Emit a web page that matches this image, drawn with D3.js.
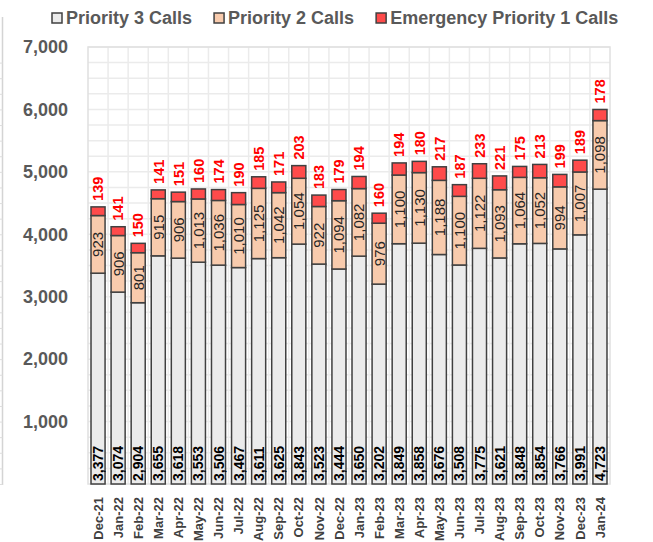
<!DOCTYPE html>
<html>
<head>
<meta charset="utf-8">
<script src="https://cdn.jsdelivr.net/npm/d3@7"></script>
<style>
  body { margin: 0; background: #fff; }
  svg { display: block; font-family: "Liberation Sans", Arial, sans-serif; }
</style>
</head>
<body>
<div id="chart"></div>
<script>
const months = ["Dec-21","Jan-22","Feb-22","Mar-22","Apr-22","May-22","Jun-22","Jul-22","Aug-22","Sep-22","Oct-22","Nov-22","Dec-22",
  "Jan-23","Feb-23","Mar-23","Apr-23","May-23","Jun-23","Jul-23","Aug-23","Sep-23","Oct-23","Nov-23","Dec-23","Jan-24"];
const priority3 = [3377,3074,2904,3655,3618,3553,3506,3467,3611,3625,3843,3523,3444,3650,3202,3849,3858,3676,3508,3775,3621,3848,3854,3766,3991,4723];
const priority2 = [923,906,801,915,906,1013,1036,1010,1125,1042,1054,922,1094,1082,976,1100,1130,1188,1100,1122,1093,1064,1052,994,1007,1098];
const priority1 = [139,141,150,141,151,160,174,190,185,171,203,183,179,194,160,194,180,217,187,233,221,175,213,199,189,178];
const yTicks = [1000,2000,3000,4000,5000,6000,7000];

const width = 653, height = 542;
const margin = { top: 47, right: 43, bottom: 58, left: 88 };

const seriesKeys = ["p3", "p2", "p1"];
const seriesNames = ["Priority 3 Calls", "Priority 2 Calls", "Emergency Priority 1 Calls"];
const colors = { p3: "#ebebeb", p2: "#f8cbad", p1: "#ff4b4b" };

const table = months.map((m, i) => ({ month: m, p3: priority3[i], p2: priority2[i], p1: priority1[i] }));
const stacked = d3.stack().keys(seriesKeys)(table);

const svg = d3.select("#chart").append("svg")
  .attr("width", width).attr("height", height);

const x = d3.scaleBand().domain(months)
  .range([margin.left, width - margin.right]).paddingInner(0.3).paddingOuter(0.15);
const y = d3.scaleLinear().domain([0, 7000]).range([height - margin.bottom, margin.top]);

// bit of a neighbouring frame at the left edge
svg.append("line").attr("x1", 2.5).attr("x2", 2.5).attr("y1", 17).attr("y2", 485)
  .attr("stroke", "#d4d4d4").attr("stroke-width", 1.5);
svg.selectAll(".edge").data(d3.range(0, 7000, 250)).enter().append("line")
  .attr("x1", 0).attr("x2", 2.5)
  .attr("y1", d => y(d) + 0.5).attr("y2", d => y(d) + 0.5)
  .attr("stroke", "#dedede");

// grid
const grid = svg.append("g");
grid.selectAll(".hg").data(d3.range(250, 7001, 250)).enter().append("line")
  .attr("x1", margin.left).attr("x2", width - margin.right)
  .attr("y1", d => y(d)).attr("y2", d => y(d))
  .attr("stroke", "#ebebeb").attr("stroke-width", 1.5);
const step = x.step();
grid.selectAll(".vg").data(months.slice(1)).enter().append("line")
  .attr("x1", d => x(d) - step * 0.15).attr("x2", d => x(d) - step * 0.15)
  .attr("y1", margin.top).attr("y2", y(0))
  .attr("stroke", "#ebebeb").attr("stroke-width", 1.5);
grid.append("rect")
  .attr("x", margin.left).attr("y", margin.top)
  .attr("width", width - margin.right - margin.left).attr("height", y(0) - margin.top)
  .attr("fill", "none").attr("stroke", "#e0e0e0").attr("stroke-width", 1.5);

// y axis labels
svg.append("g").selectAll("text").data(yTicks).enter().append("text")
  .attr("x", 68).attr("y", d => y(d)).attr("dy", "0.35em")
  .attr("text-anchor", "end")
  .style("font-size", "18px").style("font-weight", "bold").attr("fill", "#595959")
  .text(d3.format(","));

// bars
svg.append("g").selectAll("g").data(stacked).enter().append("g")
  .attr("fill", d => colors[d.key])
  .selectAll("rect").data(d => d).enter().append("rect")
  .attr("x", d => x(d.data.month))
  .attr("width", x.bandwidth())
  .attr("y", d => y(d[1]))
  .attr("height", d => y(d[0]) - y(d[1]))
  .attr("stroke", "#404040").attr("stroke-width", 1.5);

const fmt = d3.format(",");
const cx = d => x(d.data.month) + x.bandwidth() / 2;

// priority 3 labels (bottom of bar)
svg.append("g").selectAll("text").data(stacked[0]).enter().append("text")
  .attr("transform", d => `translate(${cx(d)},${y(0) - 3}) rotate(-90)`)
  .attr("dy", "0.36em")
  .style("font-size", "14px").style("font-weight", "bold").attr("fill", "#000")
  .text(d => fmt(d.data.p3));

// priority 2 labels (middle of segment)
svg.append("g").selectAll("text").data(stacked[1]).enter().append("text")
  .attr("transform", d => `translate(${cx(d)},${(y(d[0]) + y(d[1])) / 2}) rotate(-90)`)
  .attr("dy", "0.36em").attr("text-anchor", "middle")
  .style("font-size", "15px").attr("fill", "#262626")
  .text(d => fmt(d.data.p2));

// priority 1 labels (above bar)
svg.append("g").selectAll("text").data(stacked[2]).enter().append("text")
  .attr("transform", d => `translate(${cx(d)},${y(d[1]) - 6}) rotate(-90)`)
  .attr("dy", "0.36em")
  .style("font-size", "14.5px").style("font-weight", "bold").attr("fill", "#ff0000")
  .text(d => fmt(d.data.p1));

// x labels
svg.append("g").selectAll("text").data(months).enter().append("text")
  .attr("transform", d => `translate(${x(d) + x.bandwidth() / 2},497) rotate(-90)`)
  .attr("dy", "0.36em").attr("text-anchor", "end")
  .style("font-size", "13px").style("font-weight", "bold").attr("fill", "#404040")
  .text(d => d);

// legend
const legend = svg.append("g");
let lx = 52;
seriesKeys.forEach((k, i) => {
  legend.append("rect").attr("x", lx).attr("y", 13).attr("width", 10).attr("height", 10)
    .attr("fill", colors[k]).attr("stroke", "#404040").attr("stroke-width", 1.5);
  const t = legend.append("text").attr("x", lx + 14).attr("y", 24)
    .style("font-size", "18px").style("font-weight", "bold").attr("fill", "#595959")
    .text(seriesNames[i]);
  lx += 14 + t.node().getComputedTextLength() + 22;
});
</script>
</body>
</html>
